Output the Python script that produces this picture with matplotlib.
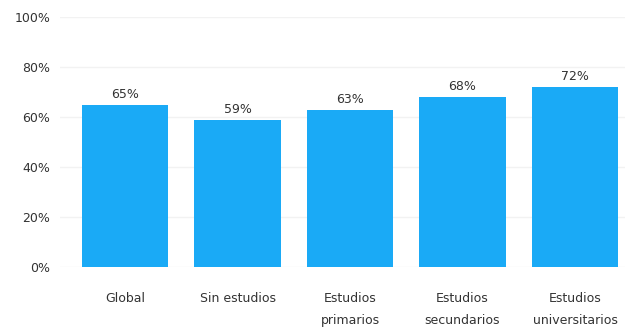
import matplotlib
matplotlib.use("Agg")
import matplotlib.pyplot as plt

categories = ["Global", "Sin estudios", "Estudios\nprimarios", "Estudios\nsecundarios", "Estudios\nuniversitarios"]
values = [65, 59, 63, 68, 72]
yticks = [0, 20, 40, 60, 80, 100]
ytick_labels = ["0%", "20%", "40%", "60%", "80%", "100%"]

W, H = 625, 330
fig = plt.figure(figsize=(W / 100, H / 100), dpi=100)
ax = fig.add_axes([60 / W, (H - 267) / H, (625 - 60) / W, 250 / H])

x = list(range(len(categories)))
ax.bar(x, values, width=0.77, color="#1aaaf6", zorder=2)
for xi, v in zip(x, values):
    ax.text(xi, v + 1.5, f"{v}%", ha="center", va="bottom", fontsize=9,
            color="#333333", fontfamily="DejaVu Sans")

ax.set_xlim(-0.578, 4.444)
ax.set_ylim(0, 100)
ax.set_yticks(yticks)
ax.set_yticklabels(ytick_labels, fontsize=9, color="#333333")
ax.set_xticks(x)
ax.set_xticklabels(categories, fontsize=9, color="#333333", linespacing=1.9)
ax.tick_params(axis="both", length=0)
ax.tick_params(axis="y", pad=7)
ax.tick_params(axis="x", pad=18)
ax.yaxis.grid(True, color="#f2f2f2", linewidth=1, zorder=0)
for s in ax.spines.values():
    s.set_visible(False)

fig.savefig("out.png", dpi=100)
